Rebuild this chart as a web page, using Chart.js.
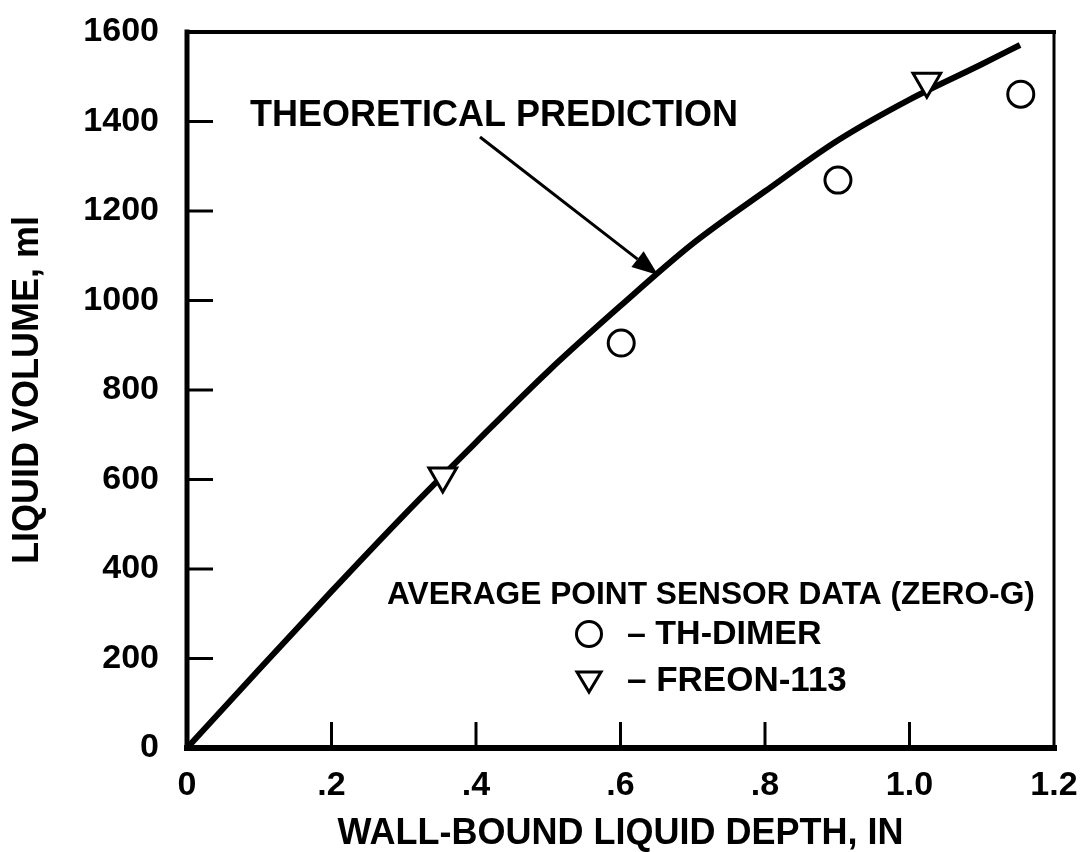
<!DOCTYPE html>
<html>
<head>
<meta charset="utf-8">
<script src="https://cdn.jsdelivr.net/npm/chart.js@4.4.1/dist/chart.umd.min.js"></script>
<style>
  html, body { margin: 0; padding: 0; background: #fff; }
  #wrap { width: 1092px; height: 852px; }
</style>
</head>
<body>
<div id="wrap"><canvas id="volumeChart" width="1092" height="852"></canvas></div>
<script>
const FONT = "'Liberation Sans', Arial, Helvetica, sans-serif";

// theoretical prediction curve
const theoryDepth = [0, 0.1, 0.2, 0.3, 0.4, 0.5, 0.6, 0.7, 0.8, 0.9, 1.0, 1.1, 1.153];
const theoryVolume = [0, 176, 350, 520, 683, 842, 988, 1127, 1244, 1357, 1449, 1528, 1571];

// average point sensor data (zero-g)
const dimerDepth = [0.601, 0.901, 1.154];
const dimerVolume = [905, 1269, 1461];
const freonDepth = [0.354, 1.024];
const freonVolume = [608, 1490];

const xTickValues = [0, 0.2, 0.4, 0.6, 0.8, 1.0, 1.2];
const xTickLabels = ['0', '.2', '.4', '.6', '.8', '1.0', '1.2'];
const yTickValues = [0, 200, 400, 600, 800, 1000, 1200, 1400, 1600];

// where the "theoretical prediction" arrow lands on the curve
const arrowTarget = { x: 0.652, y: 1057 };

const toPoints = (xs, ys) => xs.map((x, i) => ({ x: x, y: ys[i] }));

function stroke(ctx, x1, y1, x2, y2, w) {
    ctx.lineWidth = w;
    ctx.beginPath();
    ctx.moveTo(x1, y1);
    ctx.lineTo(x2, y2);
    ctx.stroke();
}

// labels hang outside the plot box, don't let them shrink it
function fixedBox(size, key) {
    return s => {
        s[key] = size;
        s.paddingTop = 0; s.paddingBottom = 0;
        s.paddingLeft = 0; s.paddingRight = 0;
    };
}

// frame with inward ticks, the arrow note and the key block
const frameAndNotes = {
    id: 'frameAndNotes',
    afterDraw(chart) {
        const { ctx, chartArea: a } = chart;
        const xs = chart.scales.x, ys = chart.scales.y;
        ctx.save();
        ctx.strokeStyle = '#000';
        ctx.fillStyle = '#000';
        ctx.lineCap = 'square';

        stroke(ctx, a.left, a.top, a.right, a.top, 4);
        stroke(ctx, a.right, a.top, a.right, a.bottom, 3);
        stroke(ctx, a.left, a.top, a.left, a.bottom, 5);
        stroke(ctx, a.left, a.bottom, a.right, a.bottom, 6);

        ctx.lineCap = 'butt';
        xTickValues.slice(1, -1).forEach(v => {
            const px = xs.getPixelForValue(v);
            stroke(ctx, px, a.bottom, px, a.bottom - 26, 3);
        });
        yTickValues.slice(1, -1).forEach(v => {
            const py = ys.getPixelForValue(v);
            stroke(ctx, a.left, py, a.left + 26, py, 3);
        });

        // note + arrow
        ctx.font = 'bold 36px ' + FONT;
        ctx.textBaseline = 'middle';
        ctx.textAlign = 'left';
        ctx.fillText('THEORETICAL PREDICTION', 250, 116);

        const tx = xs.getPixelForValue(arrowTarget.x);
        const ty = ys.getPixelForValue(arrowTarget.y);
        const sx = 480, sy = 137;
        const ang = Math.atan2(ty - sy, tx - sx);
        const headLen = 26, headHalf = 10;
        const bx = tx - headLen * Math.cos(ang), by = ty - headLen * Math.sin(ang);
        stroke(ctx, sx, sy, bx, by, 3);
        ctx.beginPath();
        ctx.moveTo(tx, ty);
        ctx.lineTo(bx + headHalf * Math.sin(ang), by - headHalf * Math.cos(ang));
        ctx.lineTo(bx - headHalf * Math.sin(ang), by + headHalf * Math.cos(ang));
        ctx.closePath();
        ctx.fill();

        // key
        ctx.font = 'bold 31.7px ' + FONT;
        ctx.fillText('AVERAGE POINT SENSOR DATA (ZERO-G)', 387, 595);
        ctx.font = 'bold 34px ' + FONT;
        ctx.fillText('\u2013 TH-DIMER', 627, 635);
        ctx.font = 'bold 35px ' + FONT;
        ctx.fillText('\u2013 FREON-113', 627, 681);

        ctx.lineWidth = 3;
        ctx.fillStyle = '#fff';
        ctx.beginPath();
        ctx.arc(589, 634, 12.5, 0, Math.PI * 2);
        ctx.fill();
        ctx.stroke();
        ctx.beginPath();
        ctx.moveTo(577, 672);
        ctx.lineTo(601, 672);
        ctx.lineTo(589, 692);
        ctx.closePath();
        ctx.fill();
        ctx.stroke();

        ctx.restore();
    }
};

const ctx = document.getElementById('volumeChart').getContext('2d');

new Chart(ctx, {
    type: 'scatter',
    data: {
        datasets: [
            {
                label: 'Theoretical prediction',
                data: toPoints(theoryDepth, theoryVolume),
                showLine: true,
                borderColor: '#000',
                borderWidth: 6,
                pointRadius: 0,
                cubicInterpolationMode: 'monotone',
                order: 2
            },
            {
                label: 'TH-DIMER',
                data: toPoints(dimerDepth, dimerVolume),
                pointStyle: 'circle',
                pointRadius: 13,
                borderWidth: 3,
                borderColor: '#000',
                backgroundColor: '#fff',
                order: 1
            },
            {
                label: 'FREON-113',
                data: toPoints(freonDepth, freonVolume),
                pointStyle: 'triangle',
                rotation: 180,
                pointRadius: 16,
                borderWidth: 3,
                borderColor: '#000',
                backgroundColor: '#fff',
                order: 1
            }
        ]
    },
    options: {
        responsive: false,
        animation: false,
        layout: { padding: { top: 32, right: 38, left: 0, bottom: 0 } },
        plugins: {
            legend: { display: false },
            tooltip: { enabled: false }
        },
        scales: {
            x: {
                type: 'linear',
                min: 0,
                max: 1.2,
                afterBuildTicks: s => { s.ticks = xTickValues.map(v => ({ value: v })); },
                afterFit: fixedBox(104, 'height'),
                grid: { display: false, drawTicks: false },
                border: { display: false },
                ticks: {
                    padding: 17,
                    color: '#000',
                    font: { family: FONT, size: 34, weight: 'bold' },
                    callback: (v, i) => xTickLabels[i]
                },
                title: {
                    display: true,
                    text: 'WALL-BOUND LIQUID DEPTH, IN',
                    color: '#000',
                    font: { family: FONT, size: 36, weight: 'bold', lineHeight: 1 },
                    padding: { top: 0, bottom: 0 }
                }
            },
            y: {
                type: 'linear',
                min: 0,
                max: 1600,
                afterBuildTicks: s => { s.ticks = yTickValues.map(v => ({ value: v })); },
                afterFit: fixedBox(187, 'width'),
                grid: { display: false, drawTicks: false },
                border: { display: false },
                ticks: {
                    padding: 28,
                    color: '#000',
                    font: { family: FONT, size: 34, weight: 'bold' },
                    callback: v => String(v)
                },
                title: {
                    display: true,
                    text: 'LIQUID VOLUME, ml',
                    color: '#000',
                    font: { family: FONT, size: 36, weight: 'bold' },
                    padding: { top: 6, bottom: 0 }
                }
            }
        }
    },
    plugins: [frameAndNotes]
});
</script>
</body>
</html>
